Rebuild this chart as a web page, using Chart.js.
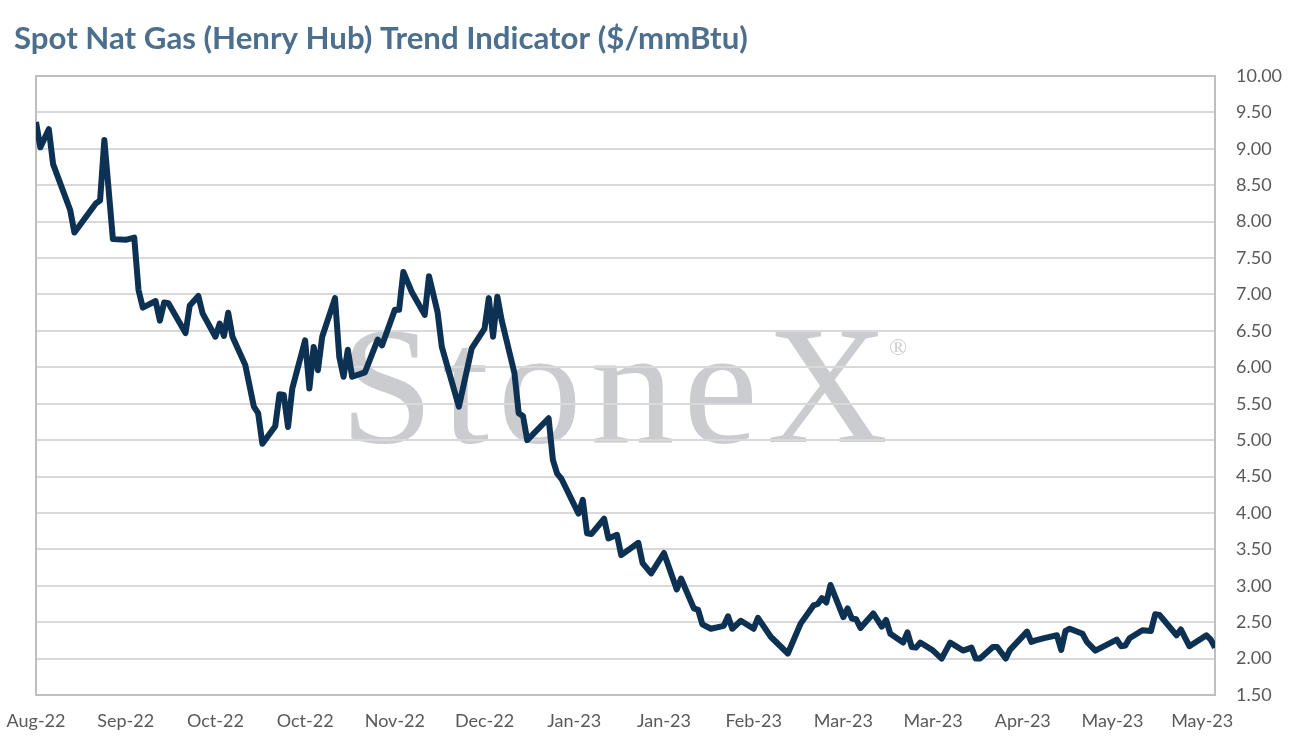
<!DOCTYPE html>
<html>
<head>
<meta charset="utf-8">
<script src="https://cdn.jsdelivr.net/npm/chart.js@4.4.0/dist/chart.umd.min.js"></script>
<style>
  html, body { margin: 0; padding: 0; background: #ffffff; }
  #wrap { width: 1292px; height: 754px; position: relative; }
</style>
</head>
<body>
<div id="wrap"><canvas id="c" width="1292" height="754"></canvas></div>
<script>
// ---- DATA ----
// Days counted from the first observation (Mon 29-Aug-2022)
const days = [0,1,3,4,8,9,14,15,16,18,21,23,24,25,28,29,30,31,35,36,38,39,42,43,44,45,46,49,51,52,53,56,57,58,59,60,63,64,65,66,67,70,71,72,73,74,77,80,81,84,85,86,88,91,92,94,95,99,102,105,106,107,108,109,112,113,114,115,120,121,122,123,127,128,129,130,133,134,136,137,141,142,144,147,150,151,154,155,156,158,161,162,163,165,168,169,172,176,179,182,183,184,185,186,189,190,191,192,193,196,198,199,200,203,204,205,206,207,210,212,214,217,219,220,221,224,225,227,228,232,233,234,236,239,240,241,242,245,246,248,253,254,255,256,259,261,262,263,267,268,270,274,275,276];
const prices = [9.37,9.02,9.27,8.79,8.16,7.85,8.25,8.29,9.12,7.76,7.75,7.78,7.06,6.82,6.91,6.64,6.89,6.88,6.47,6.85,6.98,6.74,6.42,6.60,6.43,6.75,6.42,6.03,5.46,5.37,4.95,5.19,5.63,5.62,5.18,5.71,6.37,5.71,6.28,5.96,6.42,6.95,6.14,5.87,6.24,5.87,5.93,6.38,6.30,6.79,6.79,7.31,7.03,6.72,7.25,6.76,6.28,5.46,6.26,6.53,6.95,6.42,6.97,6.65,5.92,5.37,5.33,5.00,5.30,4.73,4.54,4.47,3.99,4.18,3.72,3.71,3.92,3.65,3.70,3.42,3.59,3.31,3.17,3.45,2.95,3.10,2.69,2.67,2.47,2.41,2.45,2.58,2.41,2.52,2.41,2.56,2.30,2.07,2.48,2.73,2.75,2.83,2.77,3.01,2.57,2.69,2.55,2.54,2.42,2.62,2.44,2.53,2.34,2.22,2.36,2.16,2.15,2.22,2.11,2.00,2.22,2.11,2.15,2.00,2.00,2.16,2.16,2.00,2.12,2.37,2.23,2.25,2.28,2.32,2.12,2.38,2.41,2.34,2.23,2.11,2.26,2.17,2.18,2.28,2.39,2.38,2.61,2.60,2.32,2.40,2.17,2.32,2.26,2.15];
const tickLabels = ['Aug-22','Sep-22','Oct-22','Oct-22','Nov-22','Dec-22','Jan-23','Jan-23','Feb-23','Mar-23','Mar-23','Apr-23','May-23','May-23'];
const tickStepDays = 21;
const lastDay = 276;
const yMin = 1.5, yMax = 10, yStep = 0.5;
const titleText = 'Spot Nat Gas (Henry Hub) Trend Indicator ($/mmBtu)';
const watermarkText = 'StoneX';

const points = days.map((d, i) => ({ x: d, y: prices[i] }));

const decor = {
  id: 'decor',
  beforeDraw(chart) {
    const ctx = chart.ctx;
    ctx.save();
    ctx.fillStyle = '#ffffff';
    ctx.fillRect(0, 0, chart.width, chart.height);
    // watermark
    ctx.fillStyle = '#cbccd0';
    ctx.textBaseline = 'alphabetic';
    ctx.textAlign = 'left';
    let fs = 168;
    ctx.font = fs + 'px "Liberation Serif", "DejaVu Serif", serif';
    const w0 = ctx.measureText(watermarkText).width;
    const spacing = Math.max(0, (548 - w0) / 5);
    try { ctx.letterSpacing = spacing.toFixed(1) + 'px'; } catch (e) {}
    ctx.fillText(watermarkText, 340, 442);
    try { ctx.letterSpacing = '0px'; } catch (e) {}
    ctx.font = '24px "Liberation Serif", serif';
    ctx.fillText('\u00AE', 889, 355);
    // title
    ctx.fillStyle = '#4b6f8d';
    let tf = 28;
    ctx.font = 'bold ' + tf + 'px Lato, "Open Sans", sans-serif';
    const tw = ctx.measureText(titleText).width;
    tf = tf * 734 / tw;
    ctx.font = 'bold ' + tf + 'px Lato, "Open Sans", sans-serif';
    ctx.fillText(titleText, 14, 49);
    ctx.restore();
  },
  beforeDatasetsDraw(chart) {
    const { ctx, chartArea: a } = chart;
    ctx.save();
    ctx.strokeStyle = '#bfbfbf';
    ctx.lineWidth = 2;
    ctx.strokeRect(a.left, a.top, a.right - a.left, a.bottom - a.top);
    ctx.restore();
  }
};

new Chart(document.getElementById('c'), {
  type: 'line',
  data: {
    datasets: [{
      data: points,
      borderColor: '#0c3152',
      borderWidth: 6,
      pointRadius: 0,
      tension: 0,
      fill: false,
      borderJoinStyle: 'round',
      borderCapStyle: 'butt'
    }]
  },
  options: {
    responsive: false,
    animation: false,
    devicePixelRatio: 1,
    layout: { padding: { left: 36, top: 76, right: 0, bottom: 0 } },
    plugins: { legend: { display: false }, tooltip: { enabled: false }, title: { display: false } },
    scales: {
      x: {
        type: 'linear',
        min: 0,
        max: lastDay,
        afterBuildTicks(s) {
          s.ticks = tickLabels.map((_, i) => ({ value: i * tickStepDays }));
        },
        afterFit(s) { s.height = 59; s.paddingLeft = 0; s.paddingRight = 0; },
        ticks: {
          autoSkip: false,
          maxRotation: 0,
          padding: 15,
          color: '#595959',
          font: { family: 'Lato, "Open Sans", sans-serif', size: 18 },
          callback: (v) => tickLabels[Math.round(v / tickStepDays)] || ''
        },
        grid: { display: false, drawTicks: false },
        border: { display: false }
      },
      y: {
        position: 'right',
        min: yMin,
        max: yMax,
        afterFit(s) { s.width = 77; s.paddingTop = 0; s.paddingBottom = 0; },
        ticks: {
          stepSize: yStep,
          padding: 21,
          color: '#595959',
          font: { family: 'Lato, "Open Sans", sans-serif', size: 18 },
          callback: (v) => Number(v).toFixed(2)
        },
        grid: { color: '#d9d9d9', lineWidth: 2, drawTicks: false },
        border: { display: false }
      }
    }
  },
  plugins: [decor]
});
</script>
</body>
</html>
